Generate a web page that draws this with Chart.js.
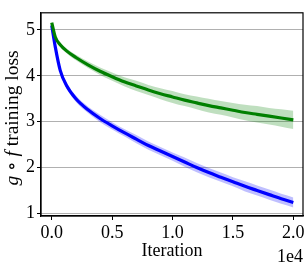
<!DOCTYPE html>
<html><head><meta charset="utf-8">
<script src="https://cdn.jsdelivr.net/npm/chart.js@4/dist/chart.umd.min.js"></script>
<style>html,body{margin:0;padding:0;background:#fff;} #wrap{width:308px;height:269px;}</style>
</head><body><div id="wrap"><canvas id="c" width="308" height="269"></canvas></div>
<script>
const iterations = [0, 300, 700, 1200, 2000, 3000, 4000, 5000, 6000, 7000, 8000, 9000, 10000, 11000, 12000, 13000, 14000, 15000, 16000, 17000, 18000, 19000, 20000];
const greenLoss = [5.16, 4.84, 4.68, 4.55, 4.40, 4.24, 4.10, 3.98, 3.87, 3.78, 3.69, 3.61, 3.54, 3.47, 3.41, 3.35, 3.30, 3.25, 3.20, 3.16, 3.12, 3.08, 3.04];
const greenSpread = [0.02, 0.03, 0.04, 0.05, 0.06, 0.07, 0.08, 0.09, 0.10, 0.11, 0.11, 0.12, 0.13, 0.13, 0.14, 0.15, 0.15, 0.16, 0.17, 0.18, 0.18, 0.19, 0.20];
const blueLoss = [5.10, 4.62, 4.12, 3.80, 3.50, 3.26, 3.07, 2.91, 2.76, 2.62, 2.48, 2.36, 2.24, 2.12, 2.00, 1.89, 1.79, 1.69, 1.59, 1.50, 1.41, 1.32, 1.24];
const blueSpread = [0.04, 0.05, 0.06, 0.06, 0.07, 0.07, 0.08, 0.08, 0.08, 0.09, 0.09, 0.09, 0.09, 0.10, 0.10, 0.10, 0.10, 0.10, 0.11, 0.11, 0.11, 0.11, 0.11];
const xTickValues = [0, 5000, 10000, 15000, 20000];
const yTickValues = [1, 2, 3, 4, 5];
const xLabel = 'Iteration';
const yLabelParts = [['g', true], [' \u2218 ', false], ['f', true], [' training loss', false]];
const offsetLabel = '1e4';

const SERIF = '"Liberation Serif", "DejaVu Serif", serif';
const pts = (vals) => iterations.map((x, i) => ({x, y: vals[i]}));
const band = (vals, sp, sign) => iterations.map((x, i) => ({x, y: vals[i] + sign * sp[i]}));

const lineBase = {pointRadius: 0, borderWidth: 3.2, cubicInterpolationMode: 'monotone', fill: false};
const bandBase = {pointRadius: 0, borderWidth: 0, cubicInterpolationMode: 'monotone'};

const extras = {
  id: 'extras',
  afterDraw(chart) {
    const ctx = chart.ctx, a = chart.chartArea;
    ctx.save();
    ctx.strokeStyle = '#000';
    ctx.lineWidth = 1.2;
    ctx.strokeRect(a.left, a.top, a.right - a.left, a.bottom - a.top);
    const size = 19.5;
    const fonts = {true: 'italic ' + size + 'px ' + SERIF, false: size + 'px ' + SERIF};
    let total = 0;
    const widths = yLabelParts.map(([t, it]) => { ctx.font = fonts[it]; const w = ctx.measureText(t).width; total += w; return w; });
    const cy = 118;
    ctx.translate(18, cy);
    ctx.rotate(-Math.PI / 2);
    ctx.fillStyle = '#000';
    ctx.textBaseline = 'alphabetic';
    ctx.textAlign = 'left';
    let x = -total / 2;
    yLabelParts.forEach(([t, it], i) => { ctx.font = fonts[it]; ctx.fillText(t, x, 0); x += widths[i]; });
    ctx.restore();
    ctx.save();
    ctx.font = '18px ' + SERIF;
    ctx.fillStyle = '#000';
    ctx.textAlign = 'right';
    ctx.textBaseline = 'alphabetic';
    ctx.fillText(offsetLabel, a.right, 262);
    ctx.restore();
  }
};

new Chart(document.getElementById('c'), {
  type: 'line',
  data: {
    datasets: [
      Object.assign({data: pts(greenLoss), borderColor: '#008000', order: 1}, lineBase),
      Object.assign({data: pts(blueLoss), borderColor: '#0000ff', order: 1}, lineBase),
      Object.assign({data: band(greenLoss, greenSpread, 1), fill: false, order: 5}, bandBase),
      Object.assign({data: band(greenLoss, greenSpread, -1), fill: '-1', backgroundColor: 'rgba(0,128,0,0.25)', order: 5}, bandBase),
      Object.assign({data: band(blueLoss, blueSpread, 1), fill: false, order: 5}, bandBase),
      Object.assign({data: band(blueLoss, blueSpread, -1), fill: '-1', backgroundColor: 'rgba(0,0,255,0.25)', order: 5}, bandBase)
    ]
  },
  options: {
    responsive: false,
    animation: false,
    events: [],
    layout: {padding: {top: 3, right: 5, left: 0, bottom: 0}},
    plugins: {legend: {display: false}, tooltip: {enabled: false}, filler: {drawTime: 'beforeDatasetsDraw'}},
    scales: {
      x: {
        type: 'linear', min: -890, max: 20800,
        afterBuildTicks: s => { s.ticks = xTickValues.map(v => ({value: v})); },
        afterFit: s => { s.height = 53; },
        grid: {drawOnChartArea: false, drawTicks: true, tickLength: 4, tickColor: '#000', tickWidth: 1},
        border: {color: '#000', width: 1.2},
        ticks: {color: '#000', padding: 2, maxRotation: 0, font: {family: SERIF, size: 18}, callback: v => (v / 10000).toFixed(1)},
        title: {display: true, text: xLabel, color: '#000', font: {family: SERIF, size: 18}, padding: {top: 0, bottom: 7}}
      },
      y: {
        type: 'linear', min: 0.944, max: 5.374,
        afterBuildTicks: s => { s.ticks = yTickValues.map(v => ({value: v})); },
        afterFit: s => { s.width = 41; },
        grid: {color: '#b0b0b0', lineWidth: 1, drawTicks: true, tickLength: 4, tickColor: '#000', tickWidth: 1},
        border: {color: '#000', width: 1.2},
        ticks: {color: '#000', padding: 2, font: {family: SERIF, size: 18}, callback: v => String(v)}
      }
    }
  },
  plugins: [extras]
});
</script>
</body></html>
